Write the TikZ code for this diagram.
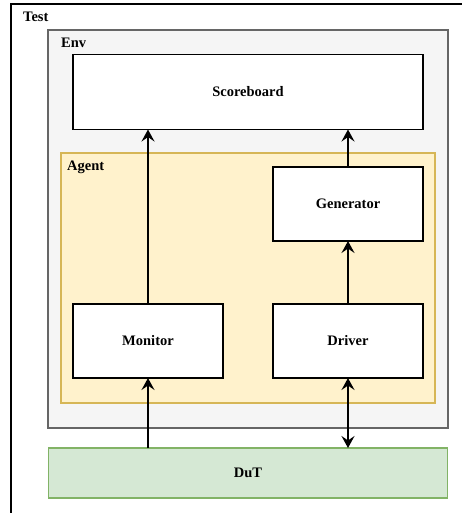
\documentclass[tikz,border=0pt]{standalone}
\usepackage{fontspec}
\setmainfont{Liberation Serif}
\usetikzlibrary{arrows.meta}
\definecolor{envfill}{HTML}{F5F5F5}
\definecolor{envline}{HTML}{666666}
\definecolor{agentfill}{HTML}{FFF2CC}
\definecolor{agentline}{HTML}{D6B656}
\definecolor{dutfill}{HTML}{D5E8D4}
\definecolor{dutline}{HTML}{82B366}
\tikzset{
  container/.style={draw, line width=1.4pt, inner sep=0pt, outer sep=0pt},
  block/.style={draw=black, fill=white, line width=1.4pt, inner sep=0pt, outer sep=0pt,
    font=\fontsize{14.5}{17}\selectfont\bfseries},
  lbl/.style={anchor=west, inner sep=0pt, font=\fontsize{14.5}{17}\selectfont\bfseries},
  tip/.tip={Stealth[length=12pt,width=13pt,inset=4.5pt]},
  link/.style={line width=2.2pt, -tip},
  duplex/.style={line width=2.2pt, tip-tip}
}
\begin{document}
\begin{tikzpicture}[x=1pt,y=-1pt]
  \useasboundingbox (0,0) rectangle (462,513);
  \begin{scope}
    \clip (0,0) rectangle (462,513);
    % outer test frame, running past the page edge
    \draw[line width=1.4pt, fill=white] (11,4) rectangle (480,530);
  \end{scope}
  \node[lbl] (test) at (23,17) {Test};

  % environment
  \draw[container, draw=envline, fill=envfill] (48,30) rectangle (448,428);
  \node[lbl] (env) at (61,43) {Env};

  % agent
  \draw[container, draw=agentline, fill=agentfill] (61,153) rectangle (435,403);
  \node[lbl] (agent) at (67,167) {Agent};

  % components
  \node[block, minimum width=350pt, minimum height=75pt] (sb) at (248,92) {Scoreboard};
  \node[block, minimum width=150pt, minimum height=74pt] (gen) at (348,204) {Generator};
  \node[block, minimum width=150pt, minimum height=74pt] (mon) at (148,341) {Monitor};
  \node[block, minimum width=150pt, minimum height=74pt] (drv) at (348,341) {Driver};
  \node[block, draw=dutline, fill=dutfill, minimum width=399pt, minimum height=50pt] (dut) at (248,473) {DuT};

  % connections
  \draw[link] (mon.north) -- (mon.north |- sb.south);
  \draw[link] (gen.north) -- (gen.north |- sb.south);
  \draw[link] (drv.north) -- (gen.south);
  \draw[link] (mon.south |- dut.north) -- (mon.south);
  \draw[duplex] (drv.south) -- (drv.south |- dut.north);
\end{tikzpicture}
\end{document}
